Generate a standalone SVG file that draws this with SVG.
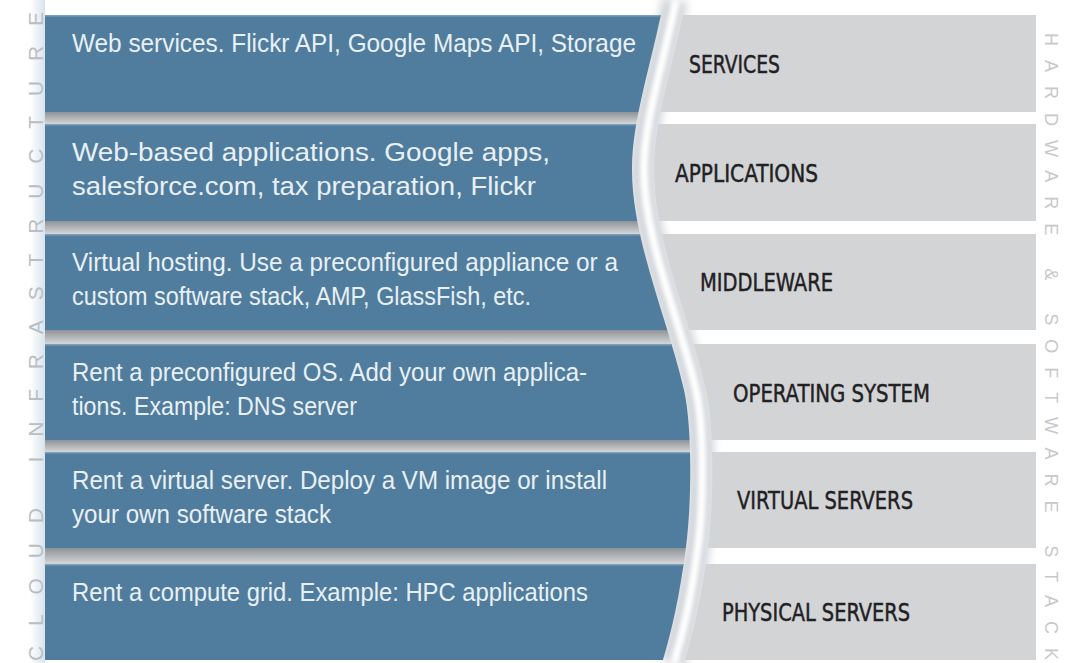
<svg xmlns="http://www.w3.org/2000/svg" width="1069" height="663" viewBox="0 0 1069 663">
<defs>
<style>
.desc{font-family:"Liberation Sans",Arial,sans-serif;font-size:25px;fill:#e9f0f5}
.lab{font-family:"Liberation Sans Narrow","DejaVu Sans Condensed","Liberation Sans",sans-serif;font-size:25px;fill:#1f2123;stroke:#1f2123;stroke-width:0.45px}
.blue{fill:#507d9d}
.hl{fill:#7d9fb8}
.gray{fill:#d3d4d6}
.gap{fill:url(#gapShade)}
.vert{font-family:"Liberation Sans","DejaVu Sans",sans-serif}
</style>
<clipPath id="blueClip"><path d="M0,0 L664,0 C650,70 632,120 632,170 C632,240 668,320 684,390 C692,425 692,500 686,547 C680,594 672,630 662,663 L0,663 Z"/></clipPath>
<clipPath id="grayClip"><path transform="translate(22,0)" d="M1100,0 L664,0 C650,70 632,120 632,170 C632,240 668,320 684,390 C692,425 692,500 686,547 C680,594 672,630 662,663 L1100,663 Z"/></clipPath>
<linearGradient id="gapShade" x1="0" y1="0" x2="0" y2="1"><stop offset="0" stop-color="#8f9397"/><stop offset="1" stop-color="#d4d6d8"/></linearGradient>
<linearGradient id="edgeShade" x1="0" y1="0" x2="1" y2="0"><stop offset="0" stop-color="#ffffff"/><stop offset="1" stop-color="#d9e3ec"/></linearGradient>
<filter id="blurWide" filterUnits="userSpaceOnUse" x="0" y="0" width="1069" height="663"><feGaussianBlur stdDeviation="4"/></filter>
<filter id="blurNarrow" filterUnits="userSpaceOnUse" x="0" y="0" width="1069" height="663"><feGaussianBlur stdDeviation="2"/></filter>
<path id="edge" d="M664,0 C650,70 632,120 632,170 C632,240 668,320 684,390 C692,425 692,500 686,547 C680,594 672,630 662,663"/>
</defs>
<rect width="1069" height="663" fill="#ffffff"/>
<g id="ridge">
<use href="#edge" transform="translate(11,0)" fill="none" stroke="#d2d6da" stroke-width="26" filter="url(#blurWide)"/>
<use href="#edge" transform="translate(12,0)" fill="none" stroke="#ffffff" stroke-width="8" filter="url(#blurNarrow)"/>
</g>
<rect x="30" y="0" width="15" height="663" fill="url(#edgeShade)"/>
<g id="row-gaps" clip-path="url(#blueClip)">
<rect class="gap" x="45" y="112" width="700" height="12"/>
<rect class="gap" x="45" y="221" width="700" height="13"/>
<rect class="gap" x="45" y="330" width="700" height="14"/>
<rect class="gap" x="45" y="440" width="700" height="12"/>
<rect class="gap" x="45" y="548" width="700" height="16"/>
</g>
<g id="cloud-label">
<text class="vert" transform="translate(43,661) rotate(-90)" font-size="21" fill="#b9bec3" textLength="649" lengthAdjust="spacing">CLOUD INFRASTRUCTURE</text>
</g>
<g id="stack-label">
<text class="vert" transform="translate(1045,33) rotate(90)" font-size="18" fill="#c6c9cc" textLength="627" lengthAdjust="spacing">HARDWARE &amp; SOFTWARE STACK</text>
</g>
<g id="services">
<g clip-path="url(#blueClip)"><rect class="blue" x="45" y="15" width="700" height="97"/><rect class="hl" x="45" y="15" width="700" height="1.5"/></g>
<rect class="gray" x="600" y="15" width="436" height="97" clip-path="url(#grayClip)"/>
<text class="desc" x="72" y="52" textLength="564" lengthAdjust="spacingAndGlyphs">Web services. Flickr API, Google Maps API, Storage</text>
<text class="lab" x="689" y="73" textLength="91" lengthAdjust="spacingAndGlyphs">SERVICES</text>
</g>
<g id="applications">
<g clip-path="url(#blueClip)"><rect class="blue" x="45" y="124" width="700" height="97"/><rect class="hl" x="45" y="124" width="700" height="1.5"/></g>
<rect class="gray" x="600" y="124" width="436" height="97" clip-path="url(#grayClip)"/>
<text class="desc" x="72" y="161" textLength="478" lengthAdjust="spacingAndGlyphs">Web-based applications. Google apps,</text>
<text class="desc" x="72" y="195" textLength="464" lengthAdjust="spacingAndGlyphs">salesforce.com, tax preparation, Flickr</text>
<text class="lab" x="675" y="182" textLength="143" lengthAdjust="spacingAndGlyphs">APPLICATIONS</text>
</g>
<g id="middleware">
<g clip-path="url(#blueClip)"><rect class="blue" x="45" y="234" width="700" height="96"/><rect class="hl" x="45" y="234" width="700" height="1.5"/></g>
<rect class="gray" x="600" y="234" width="436" height="96" clip-path="url(#grayClip)"/>
<text class="desc" x="72" y="271" textLength="546" lengthAdjust="spacingAndGlyphs">Virtual hosting. Use a preconfigured appliance or a</text>
<text class="desc" x="72" y="305" textLength="459" lengthAdjust="spacingAndGlyphs">custom software stack, AMP, GlassFish, etc.</text>
<text class="lab" x="700" y="291" textLength="133" lengthAdjust="spacingAndGlyphs">MIDDLEWARE</text>
</g>
<g id="operating-system">
<g clip-path="url(#blueClip)"><rect class="blue" x="45" y="344" width="700" height="96"/><rect class="hl" x="45" y="344" width="700" height="1.5"/></g>
<rect class="gray" x="600" y="344" width="436" height="96" clip-path="url(#grayClip)"/>
<text class="desc" x="72" y="381" textLength="515" lengthAdjust="spacingAndGlyphs">Rent a preconfigured OS. Add your own applica-</text>
<text class="desc" x="72" y="415" textLength="285" lengthAdjust="spacingAndGlyphs">tions. Example: DNS server</text>
<text class="lab" x="733" y="402" textLength="197" lengthAdjust="spacingAndGlyphs">OPERATING SYSTEM</text>
</g>
<g id="virtual-servers">
<g clip-path="url(#blueClip)"><rect class="blue" x="45" y="452" width="700" height="96"/><rect class="hl" x="45" y="452" width="700" height="1.5"/></g>
<rect class="gray" x="600" y="452" width="436" height="96" clip-path="url(#grayClip)"/>
<text class="desc" x="72" y="489" textLength="535" lengthAdjust="spacingAndGlyphs">Rent a virtual server. Deploy a VM image or install</text>
<text class="desc" x="72" y="523" textLength="259" lengthAdjust="spacingAndGlyphs">your own software stack</text>
<text class="lab" x="737" y="509" textLength="176" lengthAdjust="spacingAndGlyphs">VIRTUAL SERVERS</text>
</g>
<g id="physical-servers">
<g clip-path="url(#blueClip)"><rect class="blue" x="45" y="564" width="700" height="96"/><rect class="hl" x="45" y="564" width="700" height="1.5"/></g>
<rect class="gray" x="600" y="564" width="436" height="96" clip-path="url(#grayClip)"/>
<text class="desc" x="72" y="601" textLength="516" lengthAdjust="spacingAndGlyphs">Rent a compute grid. Example: HPC applications</text>
<text class="lab" x="722" y="621" textLength="188" lengthAdjust="spacingAndGlyphs">PHYSICAL SERVERS</text>
</g>
</svg>
